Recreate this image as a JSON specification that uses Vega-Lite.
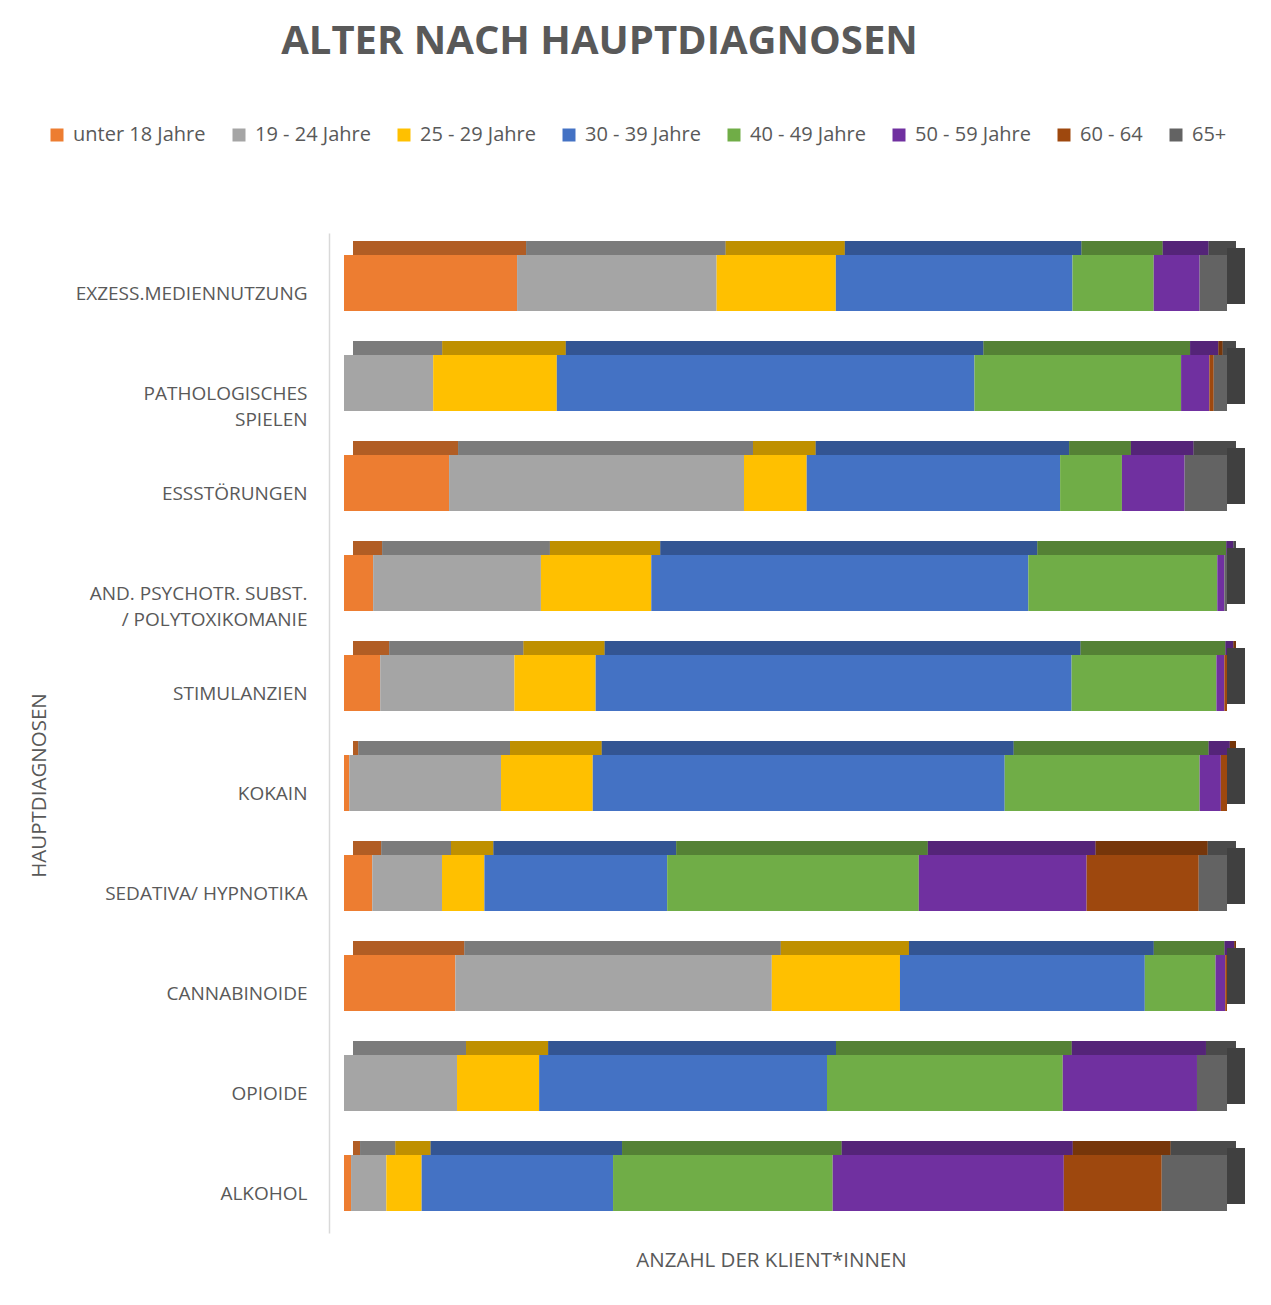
{
  "$schema": "https://vega.github.io/schema/vega-lite/v6.json",
  "autosize": "none",
  "width": 883,
  "height": 1000,
  "padding": {"left": 344, "top": 233, "right": 44, "bottom": 72},
  "background": "white",
  "title": {
    "text": "ALTER NACH HAUPTDIAGNOSEN",
    "font": "Open Sans",
    "fontSize": 40,
    "fontWeight": "bold",
    "color": "#595959",
    "anchor": "middle",
    "frame": "group",
    "offset": 63,
    "dx": -186
  },
  "config": {
    "view": {"stroke": null},
    "font": "Open Sans"
  },
  "data": {
    "values": [
      {"category": "EXZESS.MEDIENNUTZUNG", "age": "unter 18 Jahre", "k": 1, "value": 19.6},
      {"category": "EXZESS.MEDIENNUTZUNG", "age": "19 - 24 Jahre", "k": 2, "value": 22.6},
      {"category": "EXZESS.MEDIENNUTZUNG", "age": "25 - 29 Jahre", "k": 3, "value": 13.5},
      {"category": "EXZESS.MEDIENNUTZUNG", "age": "30 - 39 Jahre", "k": 4, "value": 26.8},
      {"category": "EXZESS.MEDIENNUTZUNG", "age": "40 - 49 Jahre", "k": 5, "value": 9.2},
      {"category": "EXZESS.MEDIENNUTZUNG", "age": "50 - 59 Jahre", "k": 6, "value": 5.2},
      {"category": "EXZESS.MEDIENNUTZUNG", "age": "60 - 64", "k": 7, "value": 0},
      {"category": "EXZESS.MEDIENNUTZUNG", "age": "65+", "k": 8, "value": 3.1},
      {"category": "PATHOLOGISCHES SPIELEN", "age": "unter 18 Jahre", "k": 1, "value": 0},
      {"category": "PATHOLOGISCHES SPIELEN", "age": "19 - 24 Jahre", "k": 2, "value": 10.1},
      {"category": "PATHOLOGISCHES SPIELEN", "age": "25 - 29 Jahre", "k": 3, "value": 14.0},
      {"category": "PATHOLOGISCHES SPIELEN", "age": "30 - 39 Jahre", "k": 4, "value": 47.3},
      {"category": "PATHOLOGISCHES SPIELEN", "age": "40 - 49 Jahre", "k": 5, "value": 23.4},
      {"category": "PATHOLOGISCHES SPIELEN", "age": "50 - 59 Jahre", "k": 6, "value": 3.2},
      {"category": "PATHOLOGISCHES SPIELEN", "age": "60 - 64", "k": 7, "value": 0.5},
      {"category": "PATHOLOGISCHES SPIELEN", "age": "65+", "k": 8, "value": 1.5},
      {"category": "ESSSTÖRUNGEN", "age": "unter 18 Jahre", "k": 1, "value": 11.9},
      {"category": "ESSSTÖRUNGEN", "age": "19 - 24 Jahre", "k": 2, "value": 33.4},
      {"category": "ESSSTÖRUNGEN", "age": "25 - 29 Jahre", "k": 3, "value": 7.1},
      {"category": "ESSSTÖRUNGEN", "age": "30 - 39 Jahre", "k": 4, "value": 28.7},
      {"category": "ESSSTÖRUNGEN", "age": "40 - 49 Jahre", "k": 5, "value": 7.0},
      {"category": "ESSSTÖRUNGEN", "age": "50 - 59 Jahre", "k": 6, "value": 7.1},
      {"category": "ESSSTÖRUNGEN", "age": "60 - 64", "k": 7, "value": 0},
      {"category": "ESSSTÖRUNGEN", "age": "65+", "k": 8, "value": 4.8},
      {"category": "AND. PSYCHOTR. SUBST. / POLYTOXIKOMANIE", "age": "unter 18 Jahre", "k": 1, "value": 3.3},
      {"category": "AND. PSYCHOTR. SUBST. / POLYTOXIKOMANIE", "age": "19 - 24 Jahre", "k": 2, "value": 19.0},
      {"category": "AND. PSYCHOTR. SUBST. / POLYTOXIKOMANIE", "age": "25 - 29 Jahre", "k": 3, "value": 12.5},
      {"category": "AND. PSYCHOTR. SUBST. / POLYTOXIKOMANIE", "age": "30 - 39 Jahre", "k": 4, "value": 42.7},
      {"category": "AND. PSYCHOTR. SUBST. / POLYTOXIKOMANIE", "age": "40 - 49 Jahre", "k": 5, "value": 21.4},
      {"category": "AND. PSYCHOTR. SUBST. / POLYTOXIKOMANIE", "age": "50 - 59 Jahre", "k": 6, "value": 0.8},
      {"category": "AND. PSYCHOTR. SUBST. / POLYTOXIKOMANIE", "age": "60 - 64", "k": 7, "value": 0},
      {"category": "AND. PSYCHOTR. SUBST. / POLYTOXIKOMANIE", "age": "65+", "k": 8, "value": 0.3},
      {"category": "STIMULANZIEN", "age": "unter 18 Jahre", "k": 1, "value": 4.1},
      {"category": "STIMULANZIEN", "age": "19 - 24 Jahre", "k": 2, "value": 15.2},
      {"category": "STIMULANZIEN", "age": "25 - 29 Jahre", "k": 3, "value": 9.2},
      {"category": "STIMULANZIEN", "age": "30 - 39 Jahre", "k": 4, "value": 53.9},
      {"category": "STIMULANZIEN", "age": "40 - 49 Jahre", "k": 5, "value": 16.4},
      {"category": "STIMULANZIEN", "age": "50 - 59 Jahre", "k": 6, "value": 0.9},
      {"category": "STIMULANZIEN", "age": "60 - 64", "k": 7, "value": 0.3},
      {"category": "STIMULANZIEN", "age": "65+", "k": 8, "value": 0},
      {"category": "KOKAIN", "age": "unter 18 Jahre", "k": 1, "value": 0.6},
      {"category": "KOKAIN", "age": "19 - 24 Jahre", "k": 2, "value": 17.2},
      {"category": "KOKAIN", "age": "25 - 29 Jahre", "k": 3, "value": 10.4},
      {"category": "KOKAIN", "age": "30 - 39 Jahre", "k": 4, "value": 46.7},
      {"category": "KOKAIN", "age": "40 - 49 Jahre", "k": 5, "value": 22.1},
      {"category": "KOKAIN", "age": "50 - 59 Jahre", "k": 6, "value": 2.4},
      {"category": "KOKAIN", "age": "60 - 64", "k": 7, "value": 0.7},
      {"category": "KOKAIN", "age": "65+", "k": 8, "value": 0},
      {"category": "SEDATIVA/ HYPNOTIKA", "age": "unter 18 Jahre", "k": 1, "value": 3.2},
      {"category": "SEDATIVA/ HYPNOTIKA", "age": "19 - 24 Jahre", "k": 2, "value": 7.9},
      {"category": "SEDATIVA/ HYPNOTIKA", "age": "25 - 29 Jahre", "k": 3, "value": 4.8},
      {"category": "SEDATIVA/ HYPNOTIKA", "age": "30 - 39 Jahre", "k": 4, "value": 20.7},
      {"category": "SEDATIVA/ HYPNOTIKA", "age": "40 - 49 Jahre", "k": 5, "value": 28.5},
      {"category": "SEDATIVA/ HYPNOTIKA", "age": "50 - 59 Jahre", "k": 6, "value": 19.0},
      {"category": "SEDATIVA/ HYPNOTIKA", "age": "60 - 64", "k": 7, "value": 12.7},
      {"category": "SEDATIVA/ HYPNOTIKA", "age": "65+", "k": 8, "value": 3.2},
      {"category": "CANNABINOIDE", "age": "unter 18 Jahre", "k": 1, "value": 12.6},
      {"category": "CANNABINOIDE", "age": "19 - 24 Jahre", "k": 2, "value": 35.8},
      {"category": "CANNABINOIDE", "age": "25 - 29 Jahre", "k": 3, "value": 14.5},
      {"category": "CANNABINOIDE", "age": "30 - 39 Jahre", "k": 4, "value": 27.7},
      {"category": "CANNABINOIDE", "age": "40 - 49 Jahre", "k": 5, "value": 8.0},
      {"category": "CANNABINOIDE", "age": "50 - 59 Jahre", "k": 6, "value": 1.1},
      {"category": "CANNABINOIDE", "age": "60 - 64", "k": 7, "value": 0.2},
      {"category": "CANNABINOIDE", "age": "65+", "k": 8, "value": 0},
      {"category": "OPIOIDE", "age": "unter 18 Jahre", "k": 1, "value": 0},
      {"category": "OPIOIDE", "age": "19 - 24 Jahre", "k": 2, "value": 12.8},
      {"category": "OPIOIDE", "age": "25 - 29 Jahre", "k": 3, "value": 9.3},
      {"category": "OPIOIDE", "age": "30 - 39 Jahre", "k": 4, "value": 32.6},
      {"category": "OPIOIDE", "age": "40 - 49 Jahre", "k": 5, "value": 26.7},
      {"category": "OPIOIDE", "age": "50 - 59 Jahre", "k": 6, "value": 15.2},
      {"category": "OPIOIDE", "age": "60 - 64", "k": 7, "value": 0},
      {"category": "OPIOIDE", "age": "65+", "k": 8, "value": 3.4},
      {"category": "ALKOHOL", "age": "unter 18 Jahre", "k": 1, "value": 0.8},
      {"category": "ALKOHOL", "age": "19 - 24 Jahre", "k": 2, "value": 4.0},
      {"category": "ALKOHOL", "age": "25 - 29 Jahre", "k": 3, "value": 4.0},
      {"category": "ALKOHOL", "age": "30 - 39 Jahre", "k": 4, "value": 21.7},
      {"category": "ALKOHOL", "age": "40 - 49 Jahre", "k": 5, "value": 24.9},
      {"category": "ALKOHOL", "age": "50 - 59 Jahre", "k": 6, "value": 26.2},
      {"category": "ALKOHOL", "age": "60 - 64", "k": 7, "value": 11.1},
      {"category": "ALKOHOL", "age": "65+", "k": 8, "value": 7.4}
    ]
  },
  "encoding": {
    "y": {
      "field": "category",
      "type": "nominal",
      "sort": ["EXZESS.MEDIENNUTZUNG", "PATHOLOGISCHES SPIELEN", "ESSSTÖRUNGEN", "AND. PSYCHOTR. SUBST. / POLYTOXIKOMANIE", "STIMULANZIEN", "KOKAIN", "SEDATIVA/ HYPNOTIKA", "CANNABINOIDE", "OPIOIDE", "ALKOHOL"],
      "scale": {"paddingInner": 0.44, "paddingOuter": 0.22},
      "axis": {
        "title": "HAUPTDIAGNOSEN",
        "titleFont": "Open Sans",
        "titleFontSize": 20.5,
        "titleFontWeight": "normal",
        "titleColor": "#595959",
        "titleX": -280,
        "titleY": 552,
        "offset": 15,
        "domain": true,
        "domainColor": "#d9d9d9",
        "domainWidth": 1.5,
        "ticks": false,
        "grid": false,
        "labelPadding": 22,
        "labelOffset": 11,
        "labelFont": "Open Sans",
        "labelFontSize": 19,
        "labelColor": "#595959",
        "labelLineHeight": 26,
        "labelLimit": 400,
        "labelExpr": "datum.label == 'PATHOLOGISCHES SPIELEN' ? ['PATHOLOGISCHES', 'SPIELEN'] : datum.label == 'AND. PSYCHOTR. SUBST. / POLYTOXIKOMANIE' ? ['AND. PSYCHOTR. SUBST.', '/ POLYTOXIKOMANIE'] : datum.label"
      }
    }
  },
  "layer": [
    {
      "mark": {"type": "bar", "height": 14, "yOffset": -35, "xOffset": 9},
      "encoding": {
        "x": {"field": "value", "type": "quantitative", "stack": "normalize"},
        "order": {"field": "k", "type": "quantitative"},
        "color": {"field": "age", "type": "nominal"}
      }
    },
    {
      "mark": {"type": "bar", "height": 14, "yOffset": -35, "xOffset": 9, "color": "black", "opacity": 0.25},
      "encoding": {
        "x": {"field": "value", "type": "quantitative", "stack": "normalize"},
        "order": {"field": "k", "type": "quantitative"},
        "detail": {"field": "age"}
      }
    },
    {
      "transform": [{"filter": "datum.k == 8"}],
      "mark": {"type": "bar", "height": 56, "yOffset": -7, "x2Offset": 18, "color": "#404040"},
      "encoding": {
        "x": {"datum": 1, "type": "quantitative"},
        "x2": {"datum": 1}
      }
    },
    {
      "mark": {"type": "bar", "height": 56},
      "encoding": {
        "x": {
          "field": "value",
          "type": "quantitative",
          "stack": "normalize",
          "axis": {
            "title": "ANZAHL DER KLIENT*INNEN",
            "titleFont": "Open Sans",
            "titleFontSize": 20.5,
            "titleFontWeight": "normal",
            "titleColor": "#595959",
            "titleX": 427,
            "titleY": 27,
            "titleBaseline": "middle",
            "labels": false,
            "ticks": false,
            "domain": false,
            "grid": false
          }
        },
        "order": {"field": "k", "type": "quantitative"},
        "color": {
          "field": "age",
          "type": "nominal",
          "scale": {
            "domain": ["unter 18 Jahre", "19 - 24 Jahre", "25 - 29 Jahre", "30 - 39 Jahre", "40 - 49 Jahre", "50 - 59 Jahre", "60 - 64", "65+"],
            "range": ["#ED7D31", "#A5A5A5", "#FFC000", "#4472C4", "#70AD47", "#7030A0", "#9E480E", "#636363"]
          },
          "legend": {
            "title": null,
            "orient": "none",
            "direction": "horizontal",
            "columns": 8,
            "legendX": -297,
            "legendY": -108,
            "symbolType": "square",
            "symbolSize": 169,
            "symbolStrokeWidth": 0,
            "symbolOpacity": 1,
            "labelFont": "Open Sans",
            "labelFontSize": 20,
            "labelColor": "#595959",
            "labelOffset": 6,
            "columnPadding": 23,
            "labelLimit": 300
          }
        }
      }
    }
  ]
}
